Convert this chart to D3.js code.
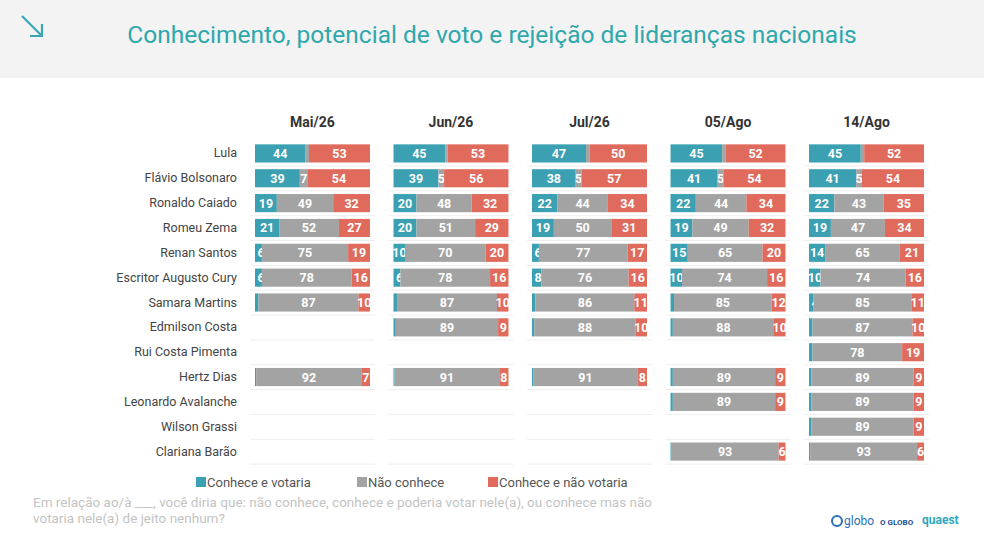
<!DOCTYPE html>
<html><head><meta charset="utf-8">
<script src="https://cdn.jsdelivr.net/npm/d3@7"></script>
<style>body{margin:0;background:#fff}svg{font-family:Roboto,"Noto Sans",sans-serif}</style>
</head><body><svg id="c" width="984" height="551"></svg>
<script>
const candidates=["Lula","Flávio Bolsonaro","Ronaldo Caiado","Romeu Zema","Renan Santos","Escritor Augusto Cury","Samara Martins","Edmilson Costa","Rui Costa Pimenta","Hertz Dias","Leonardo Avalanche","Wilson Grassi","Clariana Barão"];
const periods=["Mai/26","Jun/26","Jul/26","05/Ago","14/Ago"];
const seriesNames=["Conhece e votaria","Não conhece","Conhece e não votaria"];
// [votaria, nao conhece, nao votaria] per candidate; null = not surveyed
const vMai=[[44,3,53],[39,7,54],[19,49,32],[21,52,27],[6,75,19],[6,78,16],[3,87,10],null,null,[1,92,7],null,null,null];
const vJun=[[45,2,53],[39,5,56],[20,48,32],[20,51,29],[10,70,20],[6,78,16],[3,87,10],[2,89,9],null,[1,91,8],null,null,null];
const vJul=[[47,3,50],[38,5,57],[22,44,34],[19,50,31],[6,77,17],[8,76,16],[3,86,11],[2,88,10],null,[1,91,8],null,null,null];
const vAgo05=[[45,3,52],[41,5,54],[22,44,34],[19,49,32],[15,65,20],[10,74,16],[3,85,12],[2,88,10],null,[2,89,9],[2,89,9],null,[1,93,6]];
const vAgo14=[[45,3,52],[41,5,54],[22,43,35],[19,47,34],[14,65,21],[10,74,16],[4,85,11],[3,87,10],[3,78,19],[2,89,9],[2,89,9],[2,89,9],[1,93,6]];
const data=[vMai,vJun,vJul,vAgo05,vAgo14];
const colors=["#3ba0b2","#a3a3a3","#e06a5c"];

const svg=d3.select("#c");
svg.append("rect").attr("width",984).attr("height",78).attr("fill","#f3f3f3");
svg.append("path").attr("d","M22 16 L42 36 M42 24 L42 36 L30 36").attr("stroke","#3aa7b5").attr("stroke-width",2.2).attr("fill","none");
svg.append("text").attr("x",492).attr("y",43).attr("text-anchor","middle").attr("fill","#2ea8ac").attr("font-size",24.5).text("Conhecimento, potencial de voto e rejeição de lideranças nacionais");

const y=d3.scaleBand().domain(candidates).range([141,464]).paddingInner(0.27).paddingOuter(0.135);
const px=d3.scaleBand().domain(periods).range([255,924]).paddingInner(0.17).paddingOuter(0);
svg.selectAll(".nm").data(candidates).join("text").attr("x",237).attr("y",d=>y(d)+y.bandwidth()/2+4)
 .attr("text-anchor","end").attr("font-size",12.5).attr("fill","#444").text(d=>d);
periods.forEach((p,pi)=>{
  const x0=px(p),w=px.bandwidth();
  const g=svg.append("g");
  g.append("text").attr("x",x0+w/2).attr("y",127).attr("text-anchor","middle").attr("font-weight","bold").attr("font-size",14).attr("fill","#333").text(p);
  candidates.forEach((c,ci)=>{
    const yy=y(c)+y.bandwidth()+3.5;
    g.append("line").attr("x1",x0-5).attr("x2",x0+w+5).attr("y1",yy).attr("y2",yy).attr("stroke","#eeeeee");
    const v=data[pi][ci]; if(!v) return;
    const sx=d3.scaleLinear().domain([0,d3.sum(v)]).range([x0,x0+w]);
    let acc=0;
    v.forEach((val,si)=>{
      const a=sx(acc),b=sx(acc+val);acc+=val;
      g.append("rect").attr("x",a).attr("y",y(c)).attr("width",b-a).attr("height",y.bandwidth()).attr("fill",colors[si]);
      if(val>=4) g.append("text").attr("x",Math.max((a+b)/2, x0+6)).attr("y",y(c)+y.bandwidth()/2+4.5)
        .attr("text-anchor","middle").attr("font-size",12.5).attr("font-weight","bold").attr("fill","#fff").text(val);
    });
  });
});
const lg=[[196,"Conhece e votaria"],[357,"Não conhece"],[488,"Conhece e não votaria"]];
lg.forEach((l,i)=>{
  svg.append("rect").attr("x",l[0]).attr("y",477).attr("width",10).attr("height",10).attr("fill",colors[i]);
  svg.append("text").attr("x",l[0]+11).attr("y",487).attr("font-size",13).attr("fill","#555").text(seriesNames[i]);
});
svg.append("text").attr("x",33).attr("y",507).attr("font-size",13.5).attr("fill","#c4c4c4").text("Em relação ao/à ___, você diria que: não conhece, conhece e poderia votar nele(a), ou conhece mas não");
svg.append("text").attr("x",33).attr("y",523).attr("font-size",13.5).attr("fill","#c4c4c4").text("votaria nele(a) de jeito nenhum?");
svg.append("circle").attr("cx",837).attr("cy",521).attr("r",5).attr("fill","none").attr("stroke","#2a6fb8").attr("stroke-width",2);
svg.append("text").attr("x",844).attr("y",525).attr("font-size",12).attr("fill","#2a6fb8").text("globo");
svg.append("text").attr("x",880).attr("y",525).attr("font-size",8).attr("font-weight","bold").attr("fill","#1d4f8a").text("O GLOBO");
svg.append("text").attr("x",922).attr("y",524).attr("font-size",12).attr("font-weight","bold").attr("fill","#2ea8c0").text("quaest");
</script></body></html>
